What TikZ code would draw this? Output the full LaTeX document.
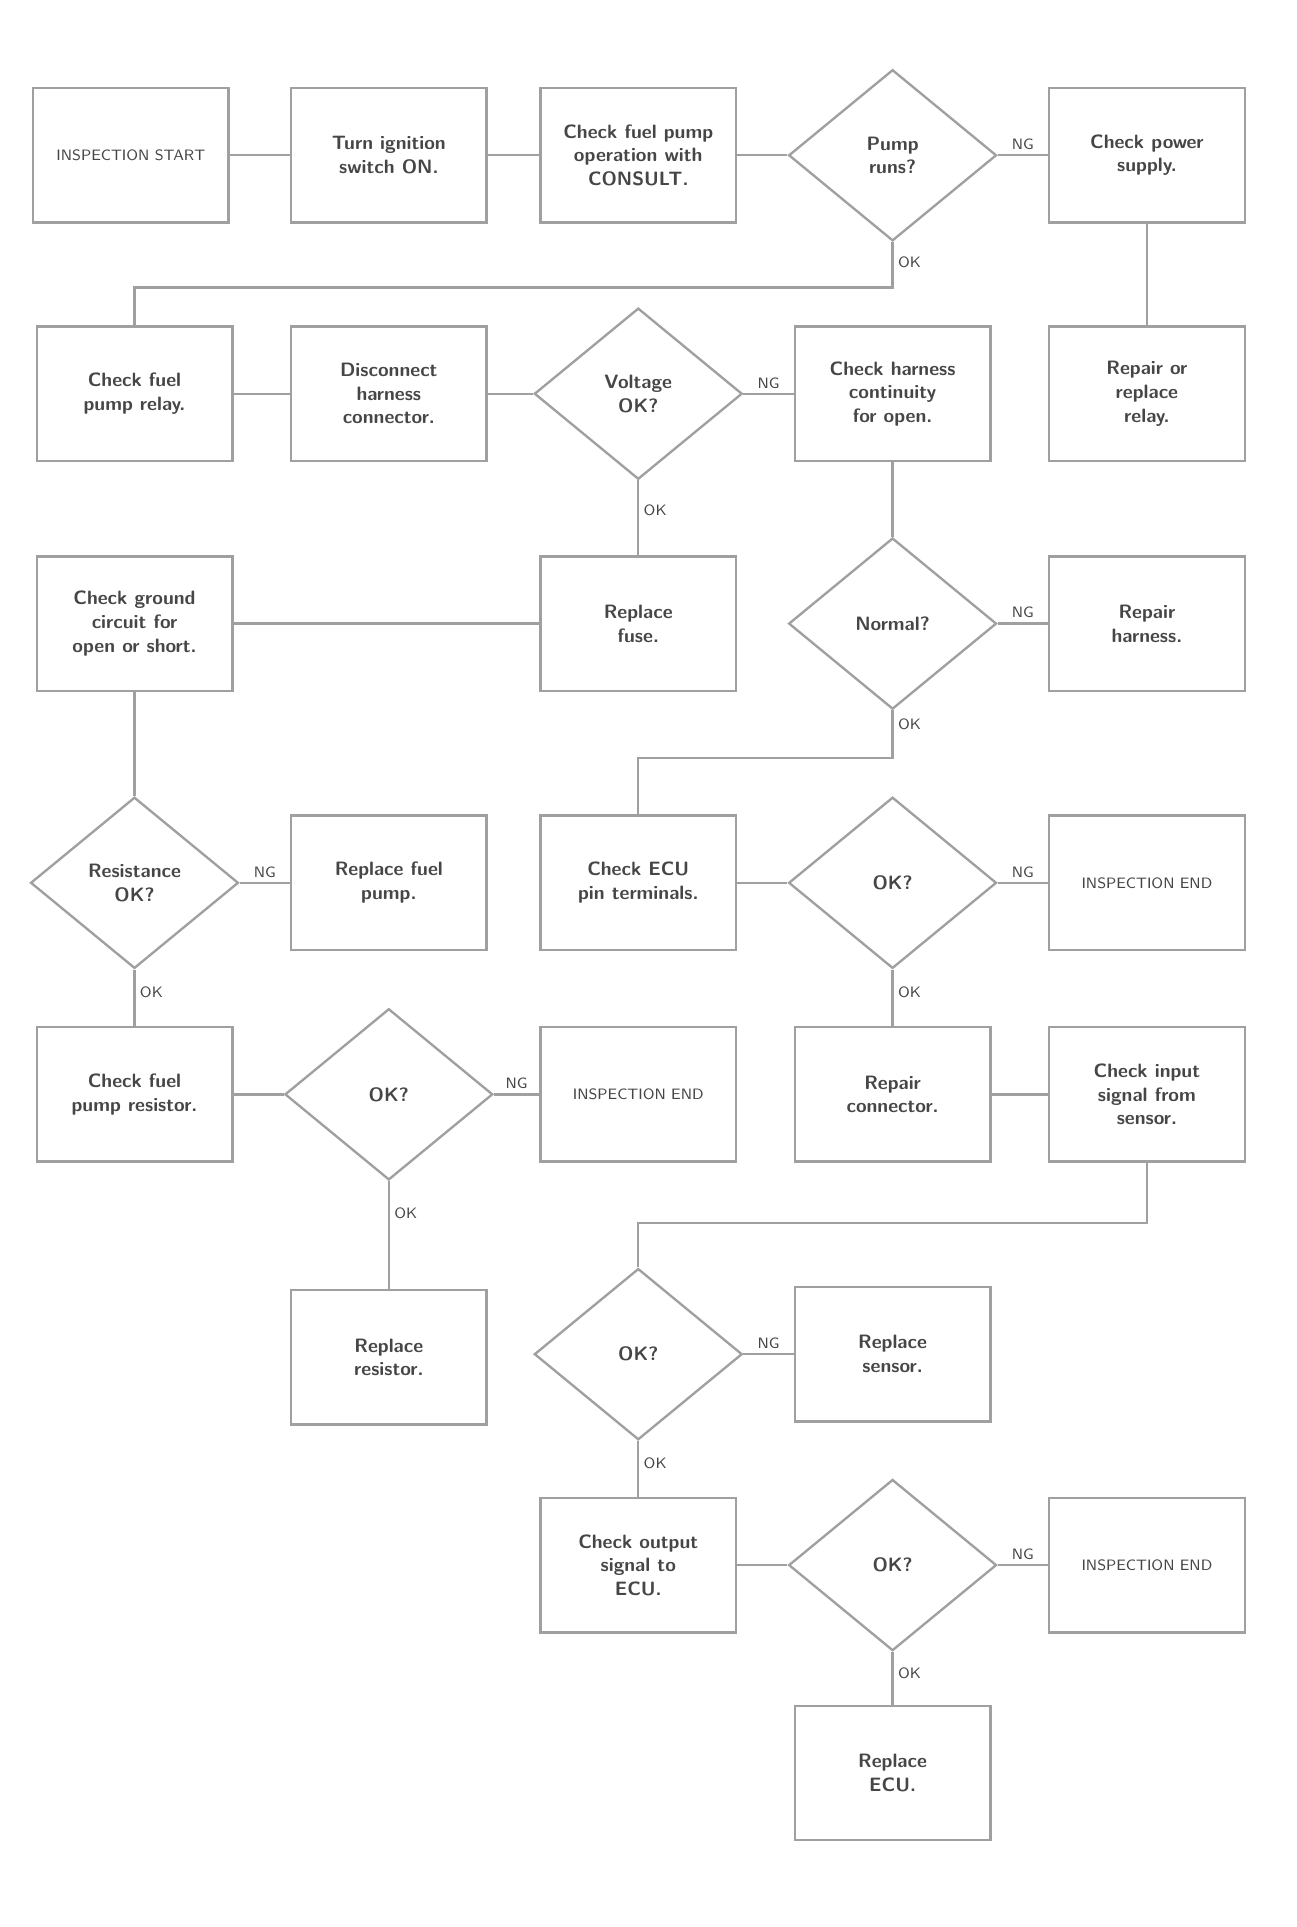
\documentclass[tikz,border=0pt]{standalone}
\usepackage{tikz}
\usetikzlibrary{positioning,shapes.geometric}

\begin{document}
\begin{tikzpicture}[x=1cm,y=1cm]
	\definecolor{chline}{RGB}{160,160,160}
	\definecolor{chtext}{RGB}{70,70,70}
	\tikzset{
		stepbox/.style={
			rectangle,
			draw=chline,
			line width=1.1pt,
			minimum width=3.2cm,
			minimum height=2.2cm,
			align=center,
			text=chtext,
			font=\sffamily\bfseries\small
		},
		endbox/.style={
			stepbox,
			font=\sffamily\scriptsize
		},
		ask/.style={
			diamond,
			draw=chline,
			line width=1.1pt,
			minimum width=3.4cm,
			minimum height=2.8cm,
			inner sep=0pt,
			align=center,
			text=chtext,
			font=\sffamily\bfseries\small
		},
		conn/.style={
			draw=chline,
			line width=1.1pt
		},
		lbl/.style={
			text=chtext,
			font=\sffamily\scriptsize,
			inner sep=2pt
		}
	}

	\useasboundingbox (0,0) rectangle (21.2,-31.52);

	% ======= Row 1 =======
	\node[endbox] (start) at ( 2.14,-2.54) {INSPECTION START};
	\node[stepbox] (ignon) at ( 6.36,-2.54) {Turn ignition\\switch ON.};
	\node[stepbox] (pumpchk) at (10.44,-2.54) {Check fuel pump\\operation with\\CONSULT.};
	\node[ask] (q1) at (14.60,-2.54) {Pump\\runs?};
	\node[stepbox] (supply) at (18.76,-2.54) {Check power\\supply.};

	% ======= Row 2 =======
	\node[stepbox] (relay) at ( 2.20,-6.44) {Check fuel\\pump relay.};
	\node[stepbox] (discon) at ( 6.36,-6.44) {Disconnect\\harness\\connector.};
	\node[ask] (q2) at (10.44,-6.44) {Voltage\\OK?};
	\node[stepbox] (harness) at (14.60,-6.44) {Check harness\\continuity\\for open.};
	\node[stepbox] (relayrep) at (18.76,-6.44) {Repair or\\replace\\relay.};

	% ======= Row 3 =======
	\node[stepbox] (ground) at ( 2.20,-10.20) {Check ground\\circuit for\\open or short.};
	\node[stepbox] (fuse) at (10.44,-10.20) {Replace\\fuse.};
	\node[ask] (q3) at (14.60,-10.20) {Normal?};
	\node[stepbox] (harnrep) at (18.76,-10.20) {Repair\\harness.};

	% ======= Row 4 =======
	\node[ask] (q4) at ( 2.20,-14.44) {Resistance\\OK?};
	\node[stepbox] (pumprep) at ( 6.36,-14.44) {Replace fuel\\pump.};
	\node[stepbox] (ecupins) at (10.44,-14.44) {Check ECU\\pin terminals.};
	\node[ask] (q5) at (14.60,-14.44) {OK?};
	\node[endbox] (end1) at (18.76,-14.44) {INSPECTION END};

	% ======= Row 5 =======
	\node[stepbox] (resist) at ( 2.20,-17.90) {Check fuel\\pump resistor.};
	\node[ask] (q6) at ( 6.36,-17.90) {OK?};
	\node[endbox] (end2) at (10.44,-17.90) {INSPECTION END};
	\node[stepbox] (conrep) at (14.60,-17.90) {Repair\\connector.};
	\node[stepbox] (insig) at (18.76,-17.90) {Check input\\signal from\\sensor.};

	% ======= Row 6 =======
	\node[stepbox] (resrep) at ( 6.36,-22.20) {Replace\\resistor.};
	\node[ask] (q7) at (10.44,-22.15) {OK?};
	\node[stepbox] (sensrep) at (14.60,-22.15) {Replace\\sensor.};

	% ======= Row 7 =======
	\node[stepbox] (outsig) at (10.44,-25.60) {Check output\\signal to\\ECU.};
	\node[ask] (q8) at (14.60,-25.60) {OK?};
	\node[endbox] (end3) at (18.76,-25.60) {INSPECTION END};

	% ======= Row 8 =======
	\node[stepbox] (ecurep) at (14.60,-29.00) {Replace\\ECU.};

	% ======= Connectors =======
	\coordinate (t1) at (14.60,-4.70);
	\coordinate (t3) at (14.60,-12.40);
	\coordinate (t5) at (18.76,-20.00);

	\draw[conn] (start) -- (ignon);
	\draw[conn] (ignon) -- (pumpchk);
	\draw[conn] (pumpchk) -- (q1);
	\draw[conn] (q1) -- node[lbl,above]{NG} (supply);
	\draw[conn] (q1.south) -- node[lbl,right,pos=0.45]{OK} (t1) -| (relay.north);
	\draw[conn] (supply) -- (relayrep);

	\draw[conn] (relay) -- (discon);
	\draw[conn] (discon) -- (q2);
	\draw[conn] (q2) -- node[lbl,above]{NG} (harness);
	\draw[conn] (q2.south) -- node[lbl,right,pos=0.4]{OK} (fuse.north);
	\draw[conn] (harness) -- (q3);

	\draw[conn] (ground) -- (fuse);
	\draw[conn] (ground) -- (q4);
	\draw[conn] (q3) -- node[lbl,above]{NG} (harnrep);
	\draw[conn] (q3.south) -- node[lbl,right,pos=0.3]{OK} (t3) -| (ecupins.north);

	\draw[conn] (q4) -- node[lbl,above]{NG} (pumprep);
	\draw[conn] (q4.south) -- node[lbl,right,pos=0.4]{OK} (resist.north);
	\draw[conn] (ecupins) -- (q5);
	\draw[conn] (q5) -- node[lbl,above]{NG} (end1);
	\draw[conn] (q5.south) -- node[lbl,right,pos=0.4]{OK} (conrep.north);

	\draw[conn] (resist) -- (q6);
	\draw[conn] (q6) -- node[lbl,above]{NG} (end2);
	\draw[conn] (q6.south) -- node[lbl,right,pos=0.3]{OK} (resrep.north);
	\draw[conn] (conrep) -- (insig);
	\draw[conn] (insig.south) -- (t5) -| (q7.north);

	\draw[conn] (q7) -- node[lbl,above]{NG} (sensrep);
	\draw[conn] (q7.south) -- node[lbl,right,pos=0.4]{OK} (outsig.north);
	\draw[conn] (outsig) -- (q8);
	\draw[conn] (q8) -- node[lbl,above]{NG} (end3);
	\draw[conn] (q8.south) -- node[lbl,right,pos=0.4]{OK} (ecurep.north);
\end{tikzpicture}
\end{document}
